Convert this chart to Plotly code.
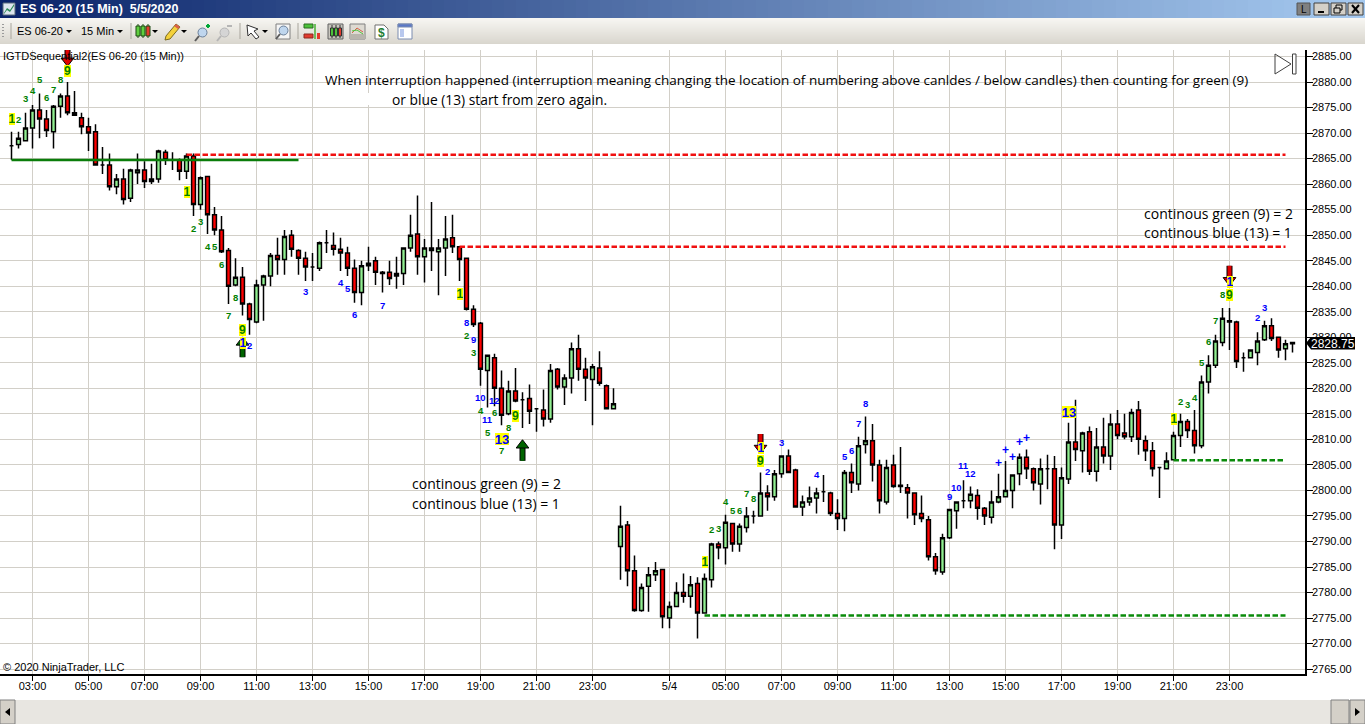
import plotly.graph_objs as go

W, H = 1365, 724

opens = [
    2867.5, 2867.75, 2868.5, 2871, 2874.5, 2872.75, 2870.25, 2875.25, 2877.25, 2874,
    2873, 2871.25, 2870.25, 2863.75, 2863.75, 2859.5, 2861, 2857.25, 2862.25, 2862.75,
    2860.5, 2861, 2866.25, 2864.75, 2864.75, 2862.5, 2865.5, 2856, 2861.5, 2854,
    2851, 2847, 2840.25, 2841.75, 2836.5, 2833, 2840.25, 2842, 2846, 2845.25,
    2850, 2847, 2845.5, 2843.75, 2843.5, 2848.5, 2848, 2847.25, 2846.5, 2843.5,
    2838.75, 2844, 2845, 2842.5, 2842.75, 2842, 2842.5, 2847.5, 2850.25, 2845.75,
    2847.5, 2846.75, 2847.5, 2849.5, 2847.75, 2845.5, 2835.5, 2832.75, 2823.5, 2826,
    2820, 2815, 2819.5, 2817.75, 2818, 2816, 2815.75, 2814, 2823.75, 2820.25,
    2822, 2827.75, 2823.75, 2821.75, 2824, 2820.5, 2816, 2789, 2793.25, 2784.25,
    2776.5, 2781.25, 2783.5, 2784.5, 2775, 2777.25, 2780, 2779.25, 2781.75, 2776,
    2782.5, 2789.5, 2788.75, 2793.5, 2789.5, 2792.75, 2795, 2795, 2799.5, 2798.75,
    2803.25, 2806.75, 2804, 2796.75, 2797.75, 2798.5, 2799.75, 2799.5, 2795.5, 2794.5,
    2803.5, 2801.25, 2809, 2809.75, 2805, 2797.75, 2805, 2801, 2800.5, 2799.5,
    2795.5, 2794.25, 2787, 2784, 2790.75, 2796, 2798, 2798, 2799, 2796.5,
    2794.75, 2797.75, 2798.75, 2800, 2803.25, 2806.5, 2804.25, 2801.25, 2804.25, 2804.25,
    2793.25, 2802.25, 2809.5, 2807.75, 2811.5, 2803.75, 2808.5, 2806.75, 2813, 2811.25,
    2810.5, 2815.75, 2809.75, 2807.75, 2804.5, 2804.25, 2806, 2810.75, 2813.5, 2811.75,
    2808.75, 2821.25, 2824.5, 2829, 2833.25, 2833, 2826, 2826, 2827, 2829.5,
    2832.25, 2830, 2827.75, 2829,
]
highs = [
    2870.25, 2870.25, 2874, 2875.5, 2877.75, 2874.5, 2875.5, 2877.75, 2880, 2878.25,
    2874, 2873, 2871.75, 2867.25, 2866, 2862, 2863, 2863, 2866, 2864.5,
    2864, 2866.75, 2866.75, 2866.25, 2865, 2866, 2866, 2861.5, 2861.5, 2855.5,
    2853.75, 2847.5, 2845.5, 2843.75, 2836.75, 2841.25, 2842.25, 2846.5, 2849.5, 2851,
    2851, 2847.25, 2846.75, 2846.5, 2848.75, 2851, 2850.5, 2849.5, 2847.75, 2845.25,
    2845, 2847.75, 2845.75, 2843, 2845, 2845.75, 2847.5, 2854, 2857.75, 2849.25,
    2856.5, 2849.25, 2853.75, 2854, 2847.75, 2845.5, 2836.25, 2833, 2826.5, 2826.75,
    2823.5, 2821.5, 2824, 2819.25, 2820.75, 2816, 2819.75, 2824.75, 2824, 2822.75,
    2829, 2830.5, 2826, 2824.75, 2827.25, 2820.75, 2820, 2797, 2794, 2787.25,
    2781.75, 2785, 2786, 2784.5, 2778.25, 2782, 2783.75, 2783.25, 2783, 2783.75,
    2789.75, 2790, 2795.25, 2793.5, 2793.5, 2796.75, 2796, 2803.5, 2801, 2804,
    2806.75, 2808, 2804.25, 2799, 2800.75, 2800.5, 2803, 2799.75, 2798.25, 2804,
    2805.25, 2810.5, 2814.5, 2813, 2806, 2806, 2807, 2808.5, 2801.25, 2799.5,
    2799, 2795, 2787.75, 2791.5, 2796.25, 2797.75, 2802, 2800.75, 2800.25, 2796.75,
    2800, 2803.25, 2805.75, 2803, 2807.25, 2808, 2804.5, 2806.25, 2807, 2806.75,
    2804.5, 2813.25, 2817.75, 2811.5, 2812.5, 2812.25, 2814.25, 2815, 2815.75, 2815,
    2816, 2817.5, 2810.75, 2809.5, 2804.5, 2807.5, 2811.5, 2815, 2814, 2815.75,
    2822.5, 2826.5, 2830.5, 2835.75, 2835.75, 2833.25, 2827, 2827.5, 2831, 2833.25,
    2833.75, 2830, 2829.5, 2829,
]
lows = [
    2864.75, 2867, 2868.5, 2867, 2869, 2869.25, 2867, 2873, 2873.5, 2873.5,
    2869.75, 2866.5, 2863.75, 2862, 2858.75, 2858, 2856, 2856.5, 2860, 2859.25,
    2860, 2860.25, 2863.75, 2862.75, 2860.75, 2861, 2853.75, 2855, 2850.25, 2850,
    2846.5, 2836.5, 2840, 2834.25, 2830.5, 2832.75, 2833.25, 2840, 2842.25, 2842.25,
    2845.75, 2842.25, 2841, 2841, 2843, 2846.5, 2846, 2843, 2842, 2836.75,
    2836.25, 2843, 2840.25, 2838.75, 2840.25, 2839.5, 2840.25, 2846.75, 2842.25, 2840.75,
    2843, 2838.25, 2842, 2846.5, 2841, 2835.25, 2832, 2820.5, 2816.25, 2816.5,
    2812.75, 2814.75, 2817.25, 2812.25, 2813, 2811.5, 2812.5, 2813.25, 2819.75, 2816.75,
    2819, 2821.5, 2817.5, 2812.75, 2820.5, 2816, 2816, 2782.5, 2781.25, 2776.25,
    2776.25, 2776.25, 2782.25, 2773, 2773, 2777.25, 2778, 2777, 2771, 2776,
    2781, 2786.5, 2785.5, 2788, 2788, 2791.75, 2793.5, 2795, 2796, 2798,
    2802.5, 2803.5, 2796.75, 2795, 2797, 2795.5, 2797.75, 2795, 2792.25, 2792,
    2799.5, 2800, 2807.25, 2801.75, 2795.5, 2797.25, 2800.5, 2799.5, 2794.5, 2793.25,
    2793.75, 2786.25, 2783.5, 2783.5, 2790.5, 2792.5, 2796.5, 2796.5, 2794.25, 2793.25,
    2793.5, 2797.5, 2798.75, 2796.5, 2801, 2802.25, 2800, 2797.25, 2800.25, 2788.5,
    2790.5, 2801.25, 2805.75, 2803.5, 2803, 2801.75, 2805.25, 2804, 2810, 2810,
    2809.5, 2807, 2805.75, 2802.75, 2798.5, 2804.25, 2806, 2808.5, 2810.25, 2807.25,
    2808.25, 2819, 2824, 2828.25, 2827.5, 2824, 2823.25, 2826, 2824.5, 2829.25,
    2829.25, 2826, 2825.5, 2827,
]
closes = [
    2867.5, 2869, 2871, 2874.5, 2872.75, 2870.5, 2875.25, 2877.25, 2874, 2873.5,
    2871.25, 2870, 2863.75, 2863.75, 2859.5, 2861, 2857, 2862.75, 2862.75, 2860.5,
    2861, 2866.5, 2864.75, 2864.75, 2862.5, 2865.5, 2856, 2861.25, 2854, 2851,
    2846.75, 2840, 2841.75, 2836.5, 2833.5, 2840.25, 2842, 2846, 2845.25, 2849.75,
    2847.25, 2845.5, 2843.75, 2843.75, 2848.5, 2848.5, 2847.25, 2846.5, 2843.5, 2838.75,
    2844, 2844.5, 2842.75, 2842.75, 2841.5, 2842.5, 2847.5, 2850, 2845.75, 2847.5,
    2847, 2847.5, 2849.25, 2847.75, 2845.25, 2835.5, 2832.5, 2823.75, 2826.5, 2820,
    2814.75, 2819.5, 2817.5, 2817.75, 2815.5, 2816, 2814, 2823.5, 2820.25, 2822,
    2827.75, 2823.75, 2822, 2824.25, 2821, 2816, 2817, 2793, 2784.25, 2776.5,
    2781, 2783.5, 2784.25, 2775.25, 2777.25, 2780, 2779.25, 2781.5, 2776, 2782.75,
    2789.5, 2788.75, 2793.75, 2789.5, 2793, 2795, 2795, 2799.5, 2798.75, 2803.25,
    2806.75, 2803.5, 2796.75, 2797.75, 2798.5, 2799.5, 2799.75, 2795.5, 2794.5, 2803.5,
    2801.5, 2808.75, 2809.75, 2805, 2798, 2804.5, 2800.75, 2800.75, 2799.5, 2795.25,
    2794.5, 2787, 2784.25, 2790.75, 2796.25, 2797.75, 2798, 2799.25, 2796.5, 2795,
    2797.75, 2798.75, 2800, 2803, 2806.5, 2804.25, 2801.5, 2804.25, 2804.25, 2793.25,
    2802.5, 2809.5, 2808, 2811.25, 2803.75, 2808.5, 2806.75, 2813, 2810.75, 2810.5,
    2815.25, 2810, 2807.75, 2804.25, 2804.5, 2805.75, 2810.75, 2813.5, 2811.75, 2808.75,
    2821.25, 2824.5, 2829.25, 2833.75, 2833, 2825.25, 2826, 2827.5, 2829.25, 2832.25,
    2829.75, 2827.5, 2828.75, 2828.75,
]
bars = list(range(len(opens)))
last_price = 2828.75

tick_bars = [3, 11, 19, 27, 35, 43, 51, 59, 67, 75, 83, 94, 102, 110, 118, 126, 134, 142, 150, 158, 166, 174]
tick_labels = ["03:00", "05:00", "07:00", "09:00", "11:00", "13:00", "15:00", "17:00", "19:00", "21:00", "23:00",
               "5/4", "05:00", "07:00", "09:00", "11:00", "13:00", "15:00", "17:00", "19:00", "21:00", "23:00"]

# small green counts
green_text = list("2345678") * 5
green_bars = [1, 2, 3, 4, 5, 6, 7, 26, 27, 28, 29, 30, 31, 32, 65, 66, 67, 68, 69, 70, 71,
              100, 101, 102, 103, 104, 105, 106, 167, 168, 169, 170, 171, 172, 173]
green_prices = [2872.75, 2876.75, 2878.25, 2880.5, 2877, 2878.5, 2880.5,
                2851.4, 2852.6, 2847.8, 2847.7, 2844.2, 2834.2, 2837.7,
                2830.25, 2827.1, 2815.75, 2811.25, 2815.2, 2807.9, 2812.4,
                2792.4, 2792.6, 2797.9, 2796.1, 2796.1, 2799.4, 2798.45,
                2817.5, 2816.85, 2818.25, 2825.1, 2829.2, 2833.2, 2838.4]
# small blue counts
blue_text = ["2", "3", "4", "5", "6", "7", "8", "9", "10", "11", "12",
             "2", "3", "4", "5", "6", "7", "8", "9", "10", "11", "12",
             "+", "+", "+", "+", "+", "2", "3"]
blue_bars = [34, 42, 47, 48, 49, 53, 65, 66, 67, 68, 69,
             108, 110, 115, 119, 120, 121, 122, 134, 135, 136, 137,
             141, 142, 143, 144, 145, 178, 179]
blue_prices = [2828.3, 2838.9, 2840.8, 2839.65, 2834.4, 2836.3, 2832.8, 2829.65, 2818.3, 2813.8, 2817.7,
               2803.8, 2809.3, 2803.2, 2806.55, 2807.9, 2813.15, 2817.1, 2798.9, 2800.5, 2804.8, 2803.4,
               2805.3, 2807.85, 2806.5, 2809.4, 2810.2, 2833.8, 2835.9]
# counts on yellow
setup_text = ["1", "9", "1", "9", "1", "9", "1", "9", "1", "9"]
setup_bars = [0, 8, 25, 33, 64, 72, 99, 107, 166, 174]
setup_prices = [2872.75, 2882.25, 2858.4, 2831.5, 2838.5, 2814.65, 2786, 2805.75, 2813.95, 2838.3]
count_text = ["1", "13", "1", "13", "1"]
count_bars = [33, 70, 107, 151, 174]
count_prices = [2828.8, 2810.05, 2808.25, 2815.4, 2840.75]

# arrows: bar, tail, tip
down_bars = [8, 107, 174]
down_tails = [2886.4, 2811.05, 2844]
down_tips = [2883.25, 2807.4, 2840.25]
up_bars = [33, 73]
up_tails = [2826.1, 2805.8]
up_tips = [2829.9, 2809.75]

# support and resistance levels: first bar, last bar, price
red_level_starts = [25, 64]
red_level_ends = [182, 182]
red_level_prices = [2865.75, 2847.75]
green_level_starts = [99, 166]
green_level_ends = [182, 182]
green_level_prices = [2775.5, 2805.9]
solid_level = [0, 41, 2864.7]


def fx(x):
    return x / W


def fy(y):
    return 1 - y / H


shapes = []
notes = []


def rect(x0, y0, x1, y1, fill, line=None, lw=1):
    shapes.append(dict(type="rect", xref="paper", yref="paper", x0=fx(x0), y0=fy(y0), x1=fx(x1), y1=fy(y1),
                       fillcolor=fill, line=dict(color=line or fill, width=lw if line else 0)))


def seg(x0, y0, x1, y1, color, lw=1):
    shapes.append(dict(type="line", xref="paper", yref="paper", x0=fx(x0), y0=fy(y0), x1=fx(x1), y1=fy(y1),
                       line=dict(color=color, width=lw)))


def poly(points, fill, line=None, lw=1):
    path = "M " + " L ".join(f"{fx(a):.5f},{fy(b):.5f}" for a, b in points) + " Z"
    shapes.append(dict(type="path", xref="paper", yref="paper", path=path, fillcolor=fill,
                       line=dict(color=line or fill, width=lw if line else 0)))


def circle(x0, y0, x1, y1, fill, line):
    shapes.append(dict(type="circle", xref="paper", yref="paper", x0=fx(x0), y0=fy(y0), x1=fx(x1), y1=fy(y1),
                       fillcolor=fill, line=dict(color=line, width=1)))


def page_text(x, y, text, size=11, color="#000000", family="Liberation Sans", anchor="left", bold=False):
    notes.append(dict(xref="paper", yref="paper", x=fx(x), y=fy(y), text=f"<b>{text}</b>" if bold else text,
                      showarrow=False, xanchor=anchor, yanchor="middle", borderpad=0, borderwidth=0,
                      font=dict(size=size, color=color, family=family)))


def bar_text(bar, price, text, color, size=9.5, bg=None, width=None):
    note = dict(xref="x", yref="y", x=bar, y=price, text=f"<b>{text}</b>", showarrow=False,
                xanchor="center", yanchor="middle", borderpad=0, borderwidth=0,
                font=dict(size=size, color=color, family="Liberation Sans"))
    if bg:
        note.update(bgcolor=bg, width=width, height=12, align="center")
    notes.append(note)


def mix(a, b, t):
    return "rgb(%d,%d,%d)" % tuple(round(a[k] + (b[k] - a[k]) * t) for k in range(3))


# window title bar
for k in range(0, W, 12):
    rect(k, 0, k + 12, 18, mix((10, 36, 106), (166, 202, 240), k / W))
rect(3, 3, 15, 15, "#DDE6EE", "#5A6A7A")
poly([(4, 13), (7, 8), (10, 10), (14, 4), (14, 6), (10, 12), (7, 10), (4, 14)], "#2E8B57")
page_text(20, 9, "ES 06-20 (15 Min)\u00a0\u00a05/5/2020", size=12.5, color="#FFFFFF", bold=True)
rect(1297, 3, 1310, 15, "#808080", "#555555")
page_text(1303.5, 9.5, "L", size=10, anchor="center")
for x0, x1 in [(1314, 1329), (1331, 1346), (1348, 1363)]:
    rect(x0, 3, x1, 15, "#D4D0C8", "#404040")
seg(1318, 12, 1324, 12, "#000000", 2)
rect(1336, 5, 1342, 10, "#D4D0C8", "#000000")
rect(1334, 8, 1340, 13, "#D4D0C8", "#000000")
seg(1352, 5, 1359, 13, "#000000", 2)
seg(1359, 5, 1352, 13, "#000000", 2)

# toolbar
for k in range(18, 44):
    rect(0, k, W, k + 1, mix((247, 246, 242), (216, 213, 205), (k - 18) / 26))
for k in range(24, 39, 3):
    rect(2, k, 4, k + 1, "#9A9A9A")
for x in [11, 131, 240, 298]:
    seg(x, 23, x, 39, "#A8A59C")
page_text(17, 31, "ES 06-20", size=11)
page_text(81, 31, "15 Min", size=11)
for x in [69, 120, 155, 184, 265]:
    poly([(x - 3, 30), (x + 3, 30), (x, 33)], "#000000")
for x, color in [(138, "#5FCF3F"), (143, "#5FCF3F"), (148, "#E33B2E")]:
    seg(x, 24, x, 38, "#1C4A12", 1)
    rect(x - 2, 26, x + 2, 36, color, "#1C4A12")
poly([(166, 36), (176, 24), (180, 27), (170, 39), (165, 40)], "#F4D13B", "#7A6A20")
poly([(176, 24), (180, 27), (178, 29), (174, 26)], "#D9604A")
circle(198, 28, 207, 37, "#BFD6EE", "#6A7F99")
seg(199, 36, 195, 41, "#5A5A5A", 2)
seg(206, 26, 210, 26, "#00A838", 2)
seg(208, 24, 208, 28, "#00A838", 2)
circle(220, 28, 229, 37, "#D5D5D5", "#B5B5B5")
seg(221, 36, 217, 41, "#B5B5B5", 2)
seg(227, 26, 232, 26, "#B5B5B5", 2)
poly([(247, 25), (258, 29), (254, 31), (259, 37), (256, 39), (251, 33), (248, 36)], "#FFFFFF", "#303030")
rect(276, 24, 290, 39, "#F5F5F5", "#808080")
circle(279, 26, 288, 35, "#BFD6EE", "#6A7F99")
seg(280, 34, 276, 39, "#5A5A5A", 2)
rect(304, 24, 313, 28, "#4CC23A", "#2A6A20")
rect(304, 34, 313, 38, "#E33B2E", "#8A2A20")
seg(315, 24, 315, 39, "#70C060", 2)
rect(317, 33, 320, 39, "#E33B2E")
rect(328, 24, 343, 39, "#C8C6BE", "#606060")
for x, color in [(332, "#4CC23A"), (336, "#4CC23A"), (340, "#E33B2E")]:
    seg(x, 25, x, 38, "#303030")
    rect(x - 1.5, 28, x + 1.5, 36, color, "#303030")
rect(350, 24, 365, 39, "#DDDAD2", "#808080")
rect(350, 34, 365, 39, "#B8B5AD")
seg(352, 33, 357, 28, "#D9604A")
seg(357, 28, 363, 32, "#D9604A")
seg(352, 31, 357, 30, "#4CC23A")
seg(357, 30, 363, 34, "#4CC23A")
poly([(375, 25), (384, 25), (388, 29), (388, 39), (375, 39)], "#FFFFFF", "#707070")
page_text(381.5, 33, "$", size=12, color="#1E7D32", anchor="center", bold=True)
rect(398, 24, 412, 39, "#FFFFFF", "#7A8CB0")
rect(398, 24, 412, 27, "#5A78C8", "#7A8CB0")
rect(400, 29, 404, 37, "#B8C8EE")

# scrollbar
rect(0, 700, W, 724, "#E8E6E1")
rect(0, 700, 15, 724, "#D4D0C8", "#808080")
rect(1331, 700, 1349, 724, "#D4D0C8", "#808080")
rect(1350, 700, 1365, 724, "#D4D0C8", "#808080")
poly([(10, 708), (10, 716), (5, 712)], "#000000")
poly([(1355, 708), (1355, 716), (1360, 712)], "#000000")

# collapse/expand widget top right
poly([(1275, 54), (1291, 64), (1275, 74)], "rgba(255,255,255,0)", "#404040")
rect(1292.5, 54, 1296, 74, "#FFFFFF", "#404040")

# gap in the gridline behind the note
rect(363, 93, 375, 105, "#FFFFFF")

# last price flag
poly([(1306, 343), (1311, 337), (1355, 337), (1355, 349.5), (1311, 349.5)], "#000000")
notes.append(dict(xref="paper", yref="y", x=fx(1333), y=last_price, text=f"{last_price:.2f}", showarrow=False,
                  xanchor="center", yanchor="middle", borderpad=0, borderwidth=0,
                  font=dict(size=12, color="#FFFFFF", family="Liberation Sans")))

page_text(3, 56, "IGTDSequential2(ES 06-20 (15 Min))", size=11)
page_text(3, 667, "© 2020 NinjaTrader, LLC", size=11)

note_font = "Open Sans"
page_text(325, 80, "When interruption happened (interruption meaning changing the location of numbering above canldes / below candles) then counting for green (9)",
          size=13.5, family=note_font)
page_text(392, 99, "or blue (13) start from zero again.", size=13.8, family=note_font)
page_text(412, 484, "continous green (9) = 2", size=14, family=note_font)
page_text(412, 503, "continous blue (13) = 1", size=14, family=note_font)
page_text(1144, 213, "continous green (9) = 2", size=14, family=note_font)
page_text(1144, 232, "continous blue (13) = 1", size=14, family=note_font)

for t, b, p in zip(green_text, green_bars, green_prices):
    bar_text(b, p, t, "#008000")
for t, b, p in zip(blue_text, blue_bars, blue_prices):
    bar_text(b, p, t, "#0000FF", size=12 if t == "+" else 9.5)
for t, b, p in zip(setup_text, setup_bars, setup_prices):
    bar_text(b, p, t, "#008000", size=12, bg="#FFFF00", width=6 if t == "1" else 7)
for t, b, p in zip(count_text, count_bars, count_prices):
    bar_text(b, p, t, "#0000FF", size=13 if t == "13" else 12, bg="#FFFF00", width=14 if t == "13" else 6)

traces = []
traces.append(go.Candlestick(
    x=bars, open=opens, high=highs, low=lows, close=closes,
    increasing=dict(fillcolor="#90EE90", line=dict(color="#000000", width=1.5)),
    decreasing=dict(fillcolor="#FF0000", line=dict(color="#000000", width=1.5)),
    whiskerwidth=0, showlegend=False, hoverinfo="skip",
))

traces.append(go.Scatter(x=solid_level[:2], y=[solid_level[2]] * 2, mode="lines",
                         line=dict(color="#0A7D0A", width=2.5), showlegend=False, hoverinfo="skip"))
for s, e, p in zip(red_level_starts, red_level_ends, red_level_prices):
    traces.append(go.Scatter(x=[s, e], y=[p, p], mode="lines",
                             line=dict(color="#F01010", width=2.5, dash="5.5px,2.5px"), showlegend=False, hoverinfo="skip"))
for s, e, p in zip(green_level_starts, green_level_ends, green_level_prices):
    traces.append(go.Scatter(x=[s, e], y=[p, p], mode="lines",
                             line=dict(color="#0A8A0A", width=2.5, dash="5.5px,2.5px"), showlegend=False, hoverinfo="skip"))

for arrow_bars, tails, tips, color, symbol, sign in [
    (down_bars, down_tails, down_tips, "#E00000", "triangle-down", 1),
    (up_bars, up_tails, up_tips, "#006400", "triangle-up", -1),
]:
    for b, t, p in zip(arrow_bars, tails, tips):
        head = p + sign * 0.9
        traces.append(go.Scatter(x=[b, b], y=[t, head], mode="lines", line=dict(color="#000000", width=6),
                                 showlegend=False, hoverinfo="skip"))
        traces.append(go.Scatter(x=[b, b], y=[t, head], mode="lines", line=dict(color=color, width=4),
                                 showlegend=False, hoverinfo="skip"))
        traces.append(go.Scatter(x=[b], y=[head], mode="markers",
                                 marker=dict(symbol=symbol, size=11, color=color, line=dict(color="#000000", width=1)),
                                 showlegend=False, hoverinfo="skip"))

grid = "#D2CFC8"
layout = go.Layout(
    width=W,
    height=H,
    margin=dict(l=0, r=0, t=0, b=0, pad=0),
    paper_bgcolor="#FFFFFF",
    plot_bgcolor="#FFFFFF",
    showlegend=False,
    boxgap=0.45,
    boxgroupgap=0,
    shapes=shapes,
    annotations=notes,
    xaxis=dict(
        domain=[0, 1305 / W], range=[-1.643, 184.786], type="linear",
        tickmode="array", tickvals=tick_bars, ticktext=tick_labels,
        showgrid=True, gridcolor=grid, gridwidth=1, zeroline=False,
        showline=True, linecolor="#000000", linewidth=1.5,
        ticks="outside", ticklen=6, tickcolor="#000000", tickwidth=1, ticklabelstandoff=-4,
        tickfont=dict(size=11, color="#000000", family="Liberation Sans"),
        rangeslider=dict(visible=False), automargin=False, fixedrange=True,
    ),
    yaxis=dict(
        domain=[1 - 673.5 / H, 1 - 50 / H], range=[2764.14, 2886.27], side="right",
        tick0=2765, dtick=5, tickformat=".2f",
        showgrid=True, gridcolor=grid, gridwidth=1, zeroline=False,
        showline=True, linecolor="#000000", linewidth=1.5,
        ticks="outside", ticklen=6, tickcolor="#000000", tickwidth=1, ticklabelstandoff=-3,
        tickfont=dict(size=11, color="#000000", family="Liberation Sans"),
        automargin=False, fixedrange=True,
    ),
)

fig = go.Figure(data=traces, layout=layout)
fig.write_html("out.html", config=dict(displayModeBar=False),
               post_script="document.body.style.margin='0';document.body.style.overflow='hidden';")
